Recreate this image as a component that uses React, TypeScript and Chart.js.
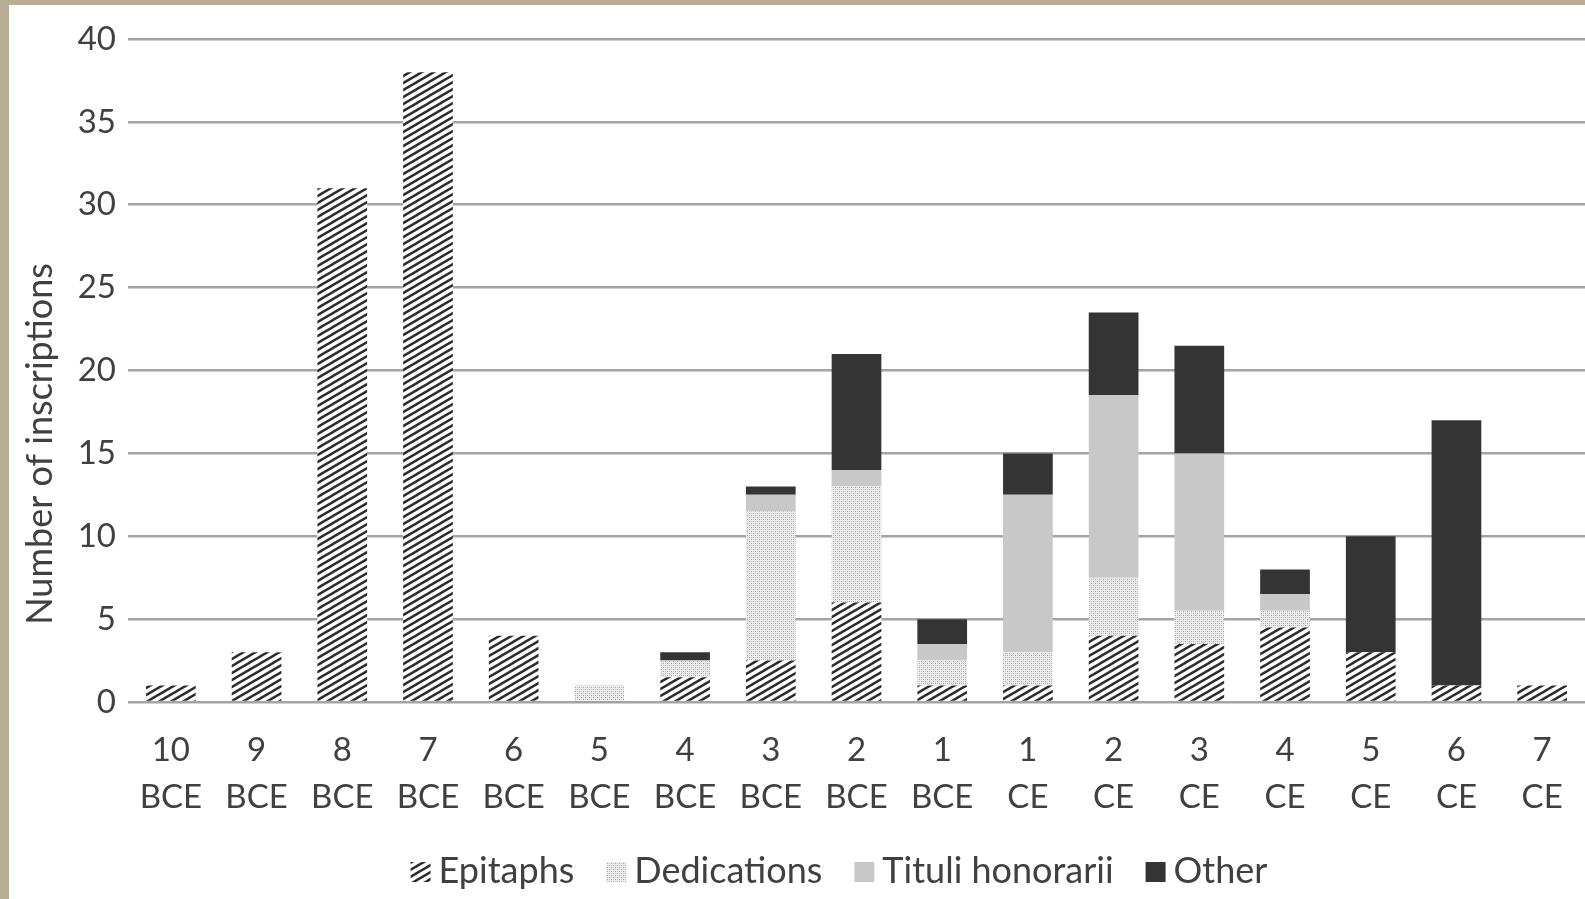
import React, { useEffect, useRef } from "react";
import { Chart, registerables } from "chart.js";

Chart.register(...registerables);

const categories: string[][] = [
  ["10", "BCE"], ["9", "BCE"], ["8", "BCE"], ["7", "BCE"], ["6", "BCE"], ["5", "BCE"],
  ["4", "BCE"], ["3", "BCE"], ["2", "BCE"], ["1", "BCE"], ["1", "CE"], ["2", "CE"],
  ["3", "CE"], ["4", "CE"], ["5", "CE"], ["6", "CE"], ["7", "CE"],
];
const epitaphs = [1, 3, 31, 38, 4, 0, 1.5, 2.5, 6, 1, 1, 4, 3.5, 4.5, 3, 1, 1];
const dedications = [0, 0, 0, 0, 0, 1, 1, 9, 7, 1.5, 2, 3.5, 2, 1, 0, 0, 0];
const tituli = [0, 0, 0, 0, 0, 0, 0, 1, 1, 1, 9.5, 11, 9.5, 1, 0, 0, 0];
const other = [0, 0, 0, 0, 0, 0, 0.5, 0.5, 7, 1.5, 2.5, 5, 6.5, 1.5, 7, 16, 0];
const seriesNames = ["Epitaphs", "Dedications", "Tituli honorarii", "Other"];
const yTitle = "Number of inscriptions";
const yMin = 0;
const yMax = 40;
const yStep = 5;

const FONT = "Lato, 'Open Sans', sans-serif";
const TEXT = "#404040";

function makeHatch(): CanvasPattern | string {
  const w = 12, h = 7;
  const c = document.createElement("canvas");
  c.width = w; c.height = h;
  const ctx = c.getContext("2d");
  if (!ctx) return "#555";
  ctx.fillStyle = "#ffffff";
  ctx.fillRect(0, 0, w, h);
  ctx.strokeStyle = "#2b2b2b";
  ctx.lineWidth = 2.4;
  for (const dx of [-w, 0, w]) {
    ctx.beginPath();
    ctx.moveTo(dx - 2, h + 2 * h / w);
    ctx.lineTo(dx + w + 2, -2 * h / w);
    ctx.stroke();
  }
  const p = ctx.createPattern(c, "repeat");
  return p || "#555";
}

function makeDots(): CanvasPattern | string {
  const s = 4;
  const c = document.createElement("canvas");
  c.width = s; c.height = s;
  const ctx = c.getContext("2d");
  if (!ctx) return "#ddd";
  ctx.fillStyle = "#ececec";
  ctx.fillRect(0, 0, s, s);
  ctx.fillStyle = "#a4a4a4";
  ctx.fillRect(0, 0, 1, 1);
  ctx.fillRect(2, 2, 1, 1);
  ctx.fillStyle = "#c8c8c8";
  ctx.fillRect(2, 0, 1, 1);
  ctx.fillRect(0, 2, 1, 1);
  const p = ctx.createPattern(c, "repeat");
  return p || "#ddd";
}

const customLegend = {
  id: "customLegend",
  afterDraw(chart: any) {
    const ctx: CanvasRenderingContext2D = chart.ctx;
    ctx.save();
    ctx.font = `36px ${FONT}`;
    const box = 20, gap = 8, sp = 32;
    const items = chart.data.datasets.map((ds: any) => ({
      label: ds.label as string,
      fill: ds.backgroundColor,
      w: ctx.measureText(ds.label).width,
    }));
    const total = items.reduce((a: number, it: any) => a + box + gap + it.w, 0) + sp * (items.length - 1);
    let x = 830 - total / 2;
    const y = 866;
    ctx.textBaseline = "middle";
    ctx.textAlign = "left";
    for (const it of items) {
      ctx.fillStyle = it.fill;
      ctx.fillRect(x, y - box / 2 + 1, box, box);
      ctx.fillStyle = TEXT;
      ctx.fillText(it.label, x + box + gap, y);
      x += box + gap + it.w + sp;
    }
    ctx.restore();
  },
};

const customYTitle = {
  id: "customYTitle",
  afterDraw(chart: any) {
    const ctx: CanvasRenderingContext2D = chart.ctx;
    ctx.save();
    ctx.font = `36px ${FONT}`;
    ctx.fillStyle = TEXT;
    ctx.translate(31, 439);
    ctx.rotate(-Math.PI / 2);
    ctx.textAlign = "center";
    ctx.textBaseline = "middle";
    ctx.fillText(yTitle, 0, 0);
    ctx.restore();
  },
};

export default function App() {
  const ref = useRef<HTMLCanvasElement | null>(null);

  useEffect(() => {
    if (!ref.current) return;
    const hatch = makeHatch();
    const dots = makeDots();
    const colors = [hatch, dots, "#c8c8c9", "#353435"];
    const values = [epitaphs, dedications, tituli, other];
    const chart = new Chart(ref.current, {
      type: "bar",
      data: {
        labels: categories,
        datasets: seriesNames.map((name, i) => ({
          label: name,
          data: values[i],
          backgroundColor: colors[i] as any,
          borderWidth: 0,
          barPercentage: 0.58,
          categoryPercentage: 1,
        })),
      },
      plugins: [customLegend, customYTitle],
      options: {
        responsive: false,
        animation: false,
        devicePixelRatio: 1,
        layout: { padding: { top: 34, left: 0, right: 0, bottom: 87 } },
        plugins: {
          tooltip: { enabled: false },
          legend: { display: false },
        },
        scales: {
          x: {
            stacked: true,
            grid: { display: false },
            border: { display: false },
            ticks: {
              font: { family: FONT, size: 33, lineHeight: 1.42 },
              color: TEXT,
              padding: 17,
              maxRotation: 0,
              autoSkip: false,
            },
            afterFit: (s: any) => { s.height = 110; },
          },
          y: {
            stacked: true,
            min: yMin,
            max: yMax,
            ticks: {
              stepSize: yStep,
              font: { family: FONT, size: 33 },
              color: TEXT,
              padding: 12,
            },
            grid: { color: "#a4a4a4", lineWidth: 2.6, drawTicks: false },
            border: { display: false },
            afterFit: (s: any) => { s.width = 119; },
          },
        },
      },
    });
    return () => chart.destroy();
  }, []);

  return (
    <div style={{ position: "fixed", left: 0, top: 0, width: 1585, height: 899, background: "#b7ad96", overflow: "hidden" }}>
      <div style={{ position: "absolute", left: 9, top: 5, width: 1576, height: 894, background: "#ffffff" }}>
        <canvas ref={ref} width={1576} height={894} style={{ display: "block", width: 1576, height: 894 }} />
      </div>
    </div>
  );
}
